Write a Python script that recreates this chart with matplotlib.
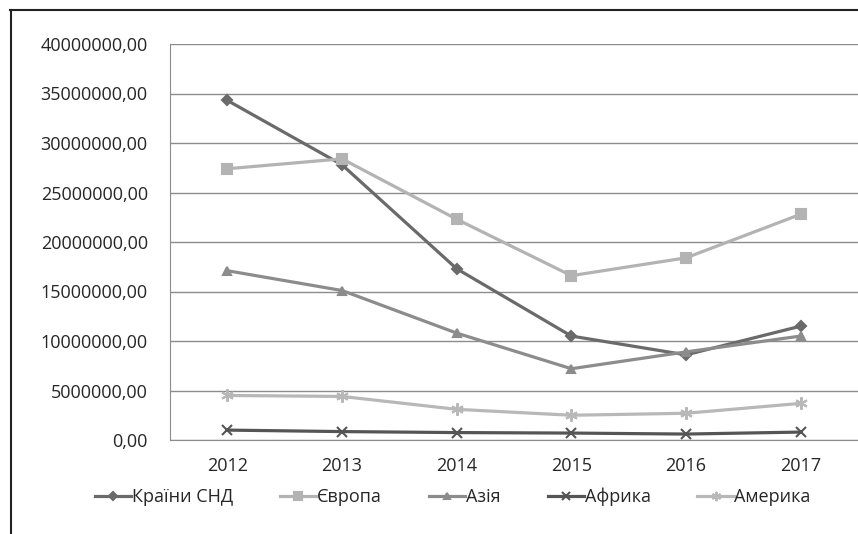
import matplotlib
matplotlib.use("Agg")
import matplotlib.pyplot as plt
from matplotlib.lines import Line2D
from matplotlib.ticker import FuncFormatter

plt.rcParams['font.family'] = ['Open Sans', 'DejaVu Sans']

years = ['2012', '2013', '2014', '2015', '2016', '2017']

cis = [34300000, 27800000, 17300000, 10500000, 8600000, 11500000]
europe = [27400000, 28400000, 22300000, 16600000, 18400000, 22800000]
asia = [17100000, 15100000, 10800000, 7200000, 8900000, 10500000]
africa = [1000000, 850000, 750000, 700000, 600000, 800000]
america = [4500000, 4400000, 3100000, 2500000, 2700000, 3700000]

series = [
    ('Країни СНД', cis, '#6a6a6a', 'D', 5),
    ('Європа', europe, '#b3b3b3', 's', 7),
    ('Азія', asia, '#8c8c8c', '^', 6),
    ('Африка', africa, '#555555', 'x', 7),
    ('Америка', america, '#b8b8b8', (6, 2, 0), 9),
]

text_color = '#262626'

fig = plt.figure(figsize=(8.58, 5.34), dpi=100)
ax = fig.add_axes([170 / 858, 1 - 440 / 534, 688 / 858, 396 / 534])

x = range(len(years))
for name, vals, color, marker, ms in series:
    ax.plot(x, vals, color=color, lw=2.3, marker=marker, markersize=ms,
            markeredgecolor=color, markerfacecolor=color, mew=1.5, label=name)

ax.set_xlim(-0.5, len(years) - 0.5)
ax.set_ylim(0, 40000000)
ax.set_yticks(range(0, 40000001, 5000000))
ax.yaxis.set_major_formatter(FuncFormatter(lambda v, p: f"{int(v)},00"))
ax.set_xticks(list(x))
ax.set_xticklabels(years)
ax.grid(axis='y', color='#8c8c8c', lw=1)
ax.set_axisbelow(True)
for side in ['top', 'right']:
    ax.spines[side].set_visible(False)
for side in ['left', 'bottom']:
    ax.spines[side].set_color('#8c8c8c')
ax.tick_params(length=0, labelsize=13, colors=text_color)
ax.tick_params(axis='y', pad=16)
ax.tick_params(axis='x', pad=12)

handles = [Line2D([], [], color=c, lw=2.3, marker=m, markersize=ms * 0.75,
                  markeredgecolor=c, markerfacecolor=c, mew=1.5)
           for _, _, c, m, ms in series]
fig.legend(handles, [s[0] for s in series], loc='center',
           bbox_to_anchor=(453 / 858, 1 - 497 / 534), ncol=5, frameon=False,
           fontsize=13, handlelength=2.0, handletextpad=0.05, columnspacing=2.6,
           labelcolor=text_color)

# outer frame of the chart area
fig.add_artist(Line2D([10 / 858, 1], [1 - 10 / 534, 1 - 10 / 534],
                      transform=fig.transFigure, color='#222222', lw=1.5))
fig.add_artist(Line2D([11 / 858, 11 / 858], [0, 1 - 10 / 534],
                      transform=fig.transFigure, color='#222222', lw=1.5))

fig.savefig('out.png', dpi=100)
